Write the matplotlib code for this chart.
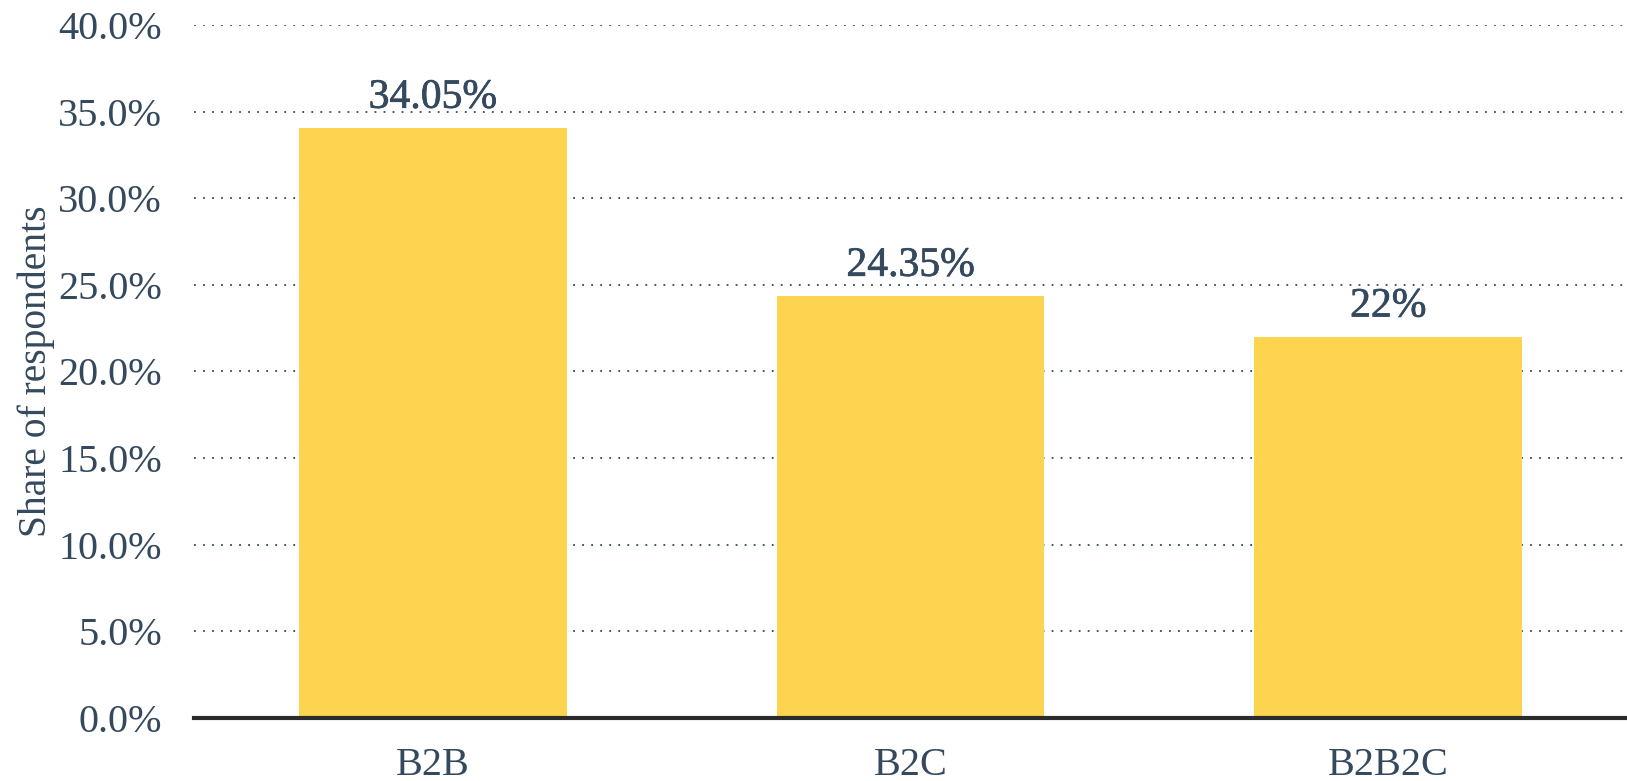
import matplotlib
matplotlib.use("Agg")
import matplotlib.pyplot as plt
import matplotlib.patheffects as pe
from matplotlib.ticker import FuncFormatter

categories = ["B2B", "B2C", "B2B2C"]
shares = [34.05, 24.35, 22.0]
value_labels = ["34.05%", "24.35%", "22%"]

TEXT = "#34495e"
BAR = "#fdd44f"

plt.rcParams["font.family"] = ["Liberation Serif", "DejaVu Serif"]

fig = plt.figure(figsize=(16.27, 7.81), dpi=100)
ax = fig.add_axes([0.1192, 0.0807, 0.8808, 0.8873])

x = range(len(categories))
ax.bar(x, shares, width=0.56, color=BAR, zorder=3)

# value labels look a touch heavier than the tick labels
for xi, v, lab in zip(x, shares, value_labels):
    ax.annotate(lab, (xi, v), xytext=(0, 22), textcoords="offset points",
                ha="center", va="center", fontsize=30, color=TEXT, zorder=4,
                family="Liberation Serif",
                path_effects=[pe.withStroke(linewidth=0.5, foreground=TEXT)])

ax.set_xlim(-0.5, 2.5)
ax.set_ylim(0, 40)
ax.set_yticks(range(0, 41, 5))
ax.yaxis.set_major_formatter(FuncFormatter(lambda v, _: f"{v:.1f}%"))
ax.set_xticks(list(x))
ax.set_xticklabels(categories)
ax.tick_params(axis="both", length=0, labelsize=29, colors=TEXT)
ax.tick_params(axis="y", pad=23)
ax.tick_params(axis="x", pad=21)

ax.grid(axis="y", linestyle=(0, (1, 4)), color="#34495e", linewidth=1.3, zorder=1)
ax.set_axisbelow(True)
for side in ("top", "right", "left"):
    ax.spines[side].set_visible(False)
ax.spines["bottom"].set_color("#2b2b2b")
ax.spines["bottom"].set_linewidth(3)
ax.spines["bottom"].set_zorder(5)

ax.set_ylabel("Share of respondents", fontsize=28.5, color=TEXT)
ax.yaxis.set_label_coords(-0.097, 0.5)

fig.savefig("out.png", dpi=100, facecolor="white")
